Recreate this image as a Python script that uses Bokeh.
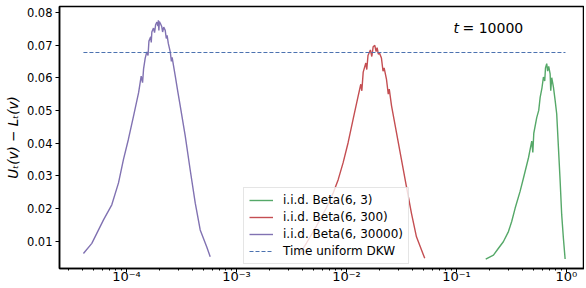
from bokeh.plotting import figure
from bokeh.models import (FixedTicker, PrintfTickFormatter, CustomJSTickFormatter,
                          Range1d, Label, Legend, LegendItem)
from bokeh.embed import file_html
from bokeh.resources import INLINE

# ---- data ----
green_x = [0.1846, 0.217, 0.241, 0.267, 0.297, 0.318, 0.342, 0.379, 0.407, 0.452,
           0.484, 0.495, 0.505, 0.537, 0.56, 0.577, 0.60, 0.618, 0.635, 0.645,
           0.662, 0.675, 0.69, 0.711, 0.72, 0.735, 0.762, 0.79, 0.816, 0.846,
           0.877, 0.906, 0.939, 0.973]
green_y = [0.0045, 0.0057, 0.0078, 0.0098, 0.0129, 0.0160, 0.0201, 0.0252, 0.0293, 0.0355,
           0.0406, 0.0371, 0.0430, 0.0478, 0.0500, 0.0540, 0.0570, 0.0602, 0.0590, 0.0630,
           0.0643, 0.0620, 0.0635, 0.0612, 0.0560, 0.0600, 0.0571, 0.0530, 0.0489, 0.0386,
           0.0283, 0.0180, 0.0108, 0.0045]

red_x = [3.74e-3, 4.33e-3, 5.34e-3, 6.58e-3, 7.57e-3, 8.41e-3, 9.33e-3, 1.035e-2, 1.15e-2,
         1.28e-2, 1.35e-2, 1.38e-2, 1.42e-2, 1.50e-2, 1.53e-2, 1.57e-2, 1.65e-2, 1.70e-2,
         1.75e-2, 1.81e-2, 1.86e-2, 1.90e-2, 1.95e-2, 2.00e-2, 2.08e-2, 2.15e-2, 2.20e-2,
         2.31e-2, 2.40e-2, 2.45e-2, 2.57e-2, 2.85e-2, 3.16e-2, 3.51e-2, 3.90e-2, 4.33e-2,
         5.15e-2]
red_y = [0.0060, 0.0094, 0.0146, 0.0202, 0.0247, 0.0288, 0.0340, 0.0401, 0.0473,
         0.0545, 0.0580, 0.0560, 0.0617, 0.0645, 0.0625, 0.0668, 0.0685, 0.0665,
         0.0695, 0.0699, 0.0680, 0.0692, 0.0672, 0.0675, 0.0660, 0.0620, 0.0630,
         0.0596, 0.0550, 0.0565, 0.0514, 0.0432, 0.0350, 0.0267, 0.0185, 0.0113,
         0.0047]

purple_x = [4.06e-5, 4.84e-5, 6.18e-5, 7.35e-5, 8.46e-5, 9.39e-5, 1.04e-4, 1.16e-4, 1.29e-4,
            1.36e-4, 1.40e-4, 1.43e-4, 1.48e-4, 1.53e-4, 1.57e-4, 1.60e-4, 1.66e-4, 1.68e-4,
            1.70e-4, 1.76e-4, 1.80e-4, 1.84e-4, 1.89e-4, 1.93e-4, 1.95e-4, 1.97e-4, 1.99e-4,
            2.04e-4, 2.09e-4, 2.13e-4, 2.18e-4, 2.25e-4, 2.30e-4, 2.34e-4, 2.40e-4, 2.50e-4,
            2.56e-4, 2.60e-4, 2.77e-4, 2.92e-4, 3.08e-4, 3.42e-4, 3.79e-4, 4.22e-4, 4.68e-4,
            5.37e-4, 5.77e-4]
purple_y = [0.0062, 0.0093, 0.0165, 0.0211, 0.0278, 0.0350, 0.0411, 0.0483, 0.0555,
            0.0605, 0.0585, 0.0627, 0.0660, 0.0679, 0.0668, 0.0712, 0.0725, 0.0708,
            0.0740, 0.0752, 0.0738, 0.0762, 0.0770, 0.0758, 0.0776, 0.0745, 0.0772,
            0.0765, 0.0757, 0.0740, 0.0755, 0.0745, 0.0720, 0.0730, 0.0705, 0.0679,
            0.0650, 0.0662, 0.0607, 0.0560, 0.0514, 0.0422, 0.0319, 0.0216, 0.0134,
            0.0082, 0.0052]

dkw_x = [4.06e-5, 0.98]
dkw_y = [0.0677, 0.0677]

labels = ["i.i.d. Beta(6, 3)", "i.i.d. Beta(6, 300)", "i.i.d. Beta(6, 30000)", "Time uniform DKW"]
y_ticks = [0.01, 0.02, 0.03, 0.04, 0.05, 0.06, 0.07, 0.08]
x_ticks = [1e-4, 1e-3, 1e-2, 1e-1, 1e0]
x_minor = [k * 10.0 ** e for e in range(-5, 1) for k in range(2, 10)]
t_label = "= 10000"

FONT = "DejaVu Sans"
Y0, Y1 = 0.0016, 0.0818

p = figure(width=584, height=286, x_axis_type="log",
           x_range=Range1d(2.46e-5, 1.46), y_range=Range1d(Y0, Y1),
           output_backend="svg", toolbar_location=None,
           min_border_left=59, min_border_right=0, min_border_top=6, min_border_bottom=0)
p.background_fill_color = "white"
p.border_fill_color = "white"
p.xgrid.visible = False
p.ygrid.visible = False
p.outline_line_color = "black"
p.outline_line_width = 1.5

rg = p.line(green_x, green_y, line_color="#55a868", line_width=1.4)
rr = p.line(red_x, red_y, line_color="#c44e52", line_width=1.4)
rp = p.line(purple_x, purple_y, line_color="#8172b2", line_width=1.4)
rd = p.line(dkw_x, dkw_y, line_color="#4c72b0", line_width=1.1, line_dash="4 2")

# axes
p.xaxis.ticker = FixedTicker(ticks=x_ticks, minor_ticks=x_minor)
p.xaxis.formatter = CustomJSTickFormatter(code="""
const e = Math.round(Math.log10(tick));
const sup = {'-':'\u207b','0':'\u2070','1':'\u00b9','2':'\u00b2','3':'\u00b3','4':'\u2074','5':'\u2075','6':'\u2076','7':'\u2077','8':'\u2078','9':'\u2079'};
return '10' + String(e).split('').map(c => sup[c]).join('');
""")
p.yaxis.ticker = FixedTicker(ticks=y_ticks)
p.yaxis.formatter = PrintfTickFormatter(format="%.2f")
for ax in (p.xaxis, p.yaxis):
    ax.axis_line_color = "black"
    ax.axis_line_width = 1.5
    ax.major_tick_line_color = "black"
    ax.minor_tick_line_color = "black"
    ax.major_tick_in = 0
    ax.major_tick_out = 4
    ax.minor_tick_in = 0
    ax.minor_tick_out = 2
    ax.major_label_text_font = FONT
    ax.major_label_text_color = "black"
p.yaxis.major_label_text_font_size = "11.5px"
p.yaxis.major_label_standoff = 3
p.xaxis.major_label_text_font_size = "13px"
p.xaxis.major_label_standoff = -4
p.yaxis.minor_tick_line_color = None
p.yaxis.axis_label = "U\u209c(v) \u2212 L\u209c(v)"
p.yaxis.axis_label_text_font = FONT
p.yaxis.axis_label_text_font_style = "italic"
p.yaxis.axis_label_text_font_size = "13.5px"
p.yaxis.axis_label_standoff = 3
p.yaxis.axis_label_text_color = "black"

# annotation
p.add_layout(Label(x=0.094, y=0.0751, text="t", text_font=FONT, text_font_style="italic",
                   text_font_size="14px", text_baseline="middle", text_color="black"))
p.add_layout(Label(x=0.094, y=0.0751, x_offset=9, text=t_label, text_font=FONT,
                   text_font_size="14px", text_baseline="middle", text_color="black"))

legend = Legend(items=[LegendItem(label=labels[0], renderers=[rg]),
                       LegendItem(label=labels[1], renderers=[rr]),
                       LegendItem(label=labels[2], renderers=[rp]),
                       LegendItem(label=labels[3], renderers=[rd])],
                location=(184, 4))
legend.margin = 0
legend.padding = 5
legend.spacing = 3
legend.label_height = 14
legend.glyph_height = 14
legend.glyph_width = 24
legend.label_standoff = 10
legend.label_text_font = FONT
legend.label_text_font_size = "12px"
legend.label_text_color = "black"
legend.border_line_color = "#cccccc"
legend.border_line_width = 1.2
legend.background_fill_color = "white"
legend.background_fill_alpha = 0.8
p.add_layout(legend)

open("out.html", "w").write(file_html(p, INLINE))
